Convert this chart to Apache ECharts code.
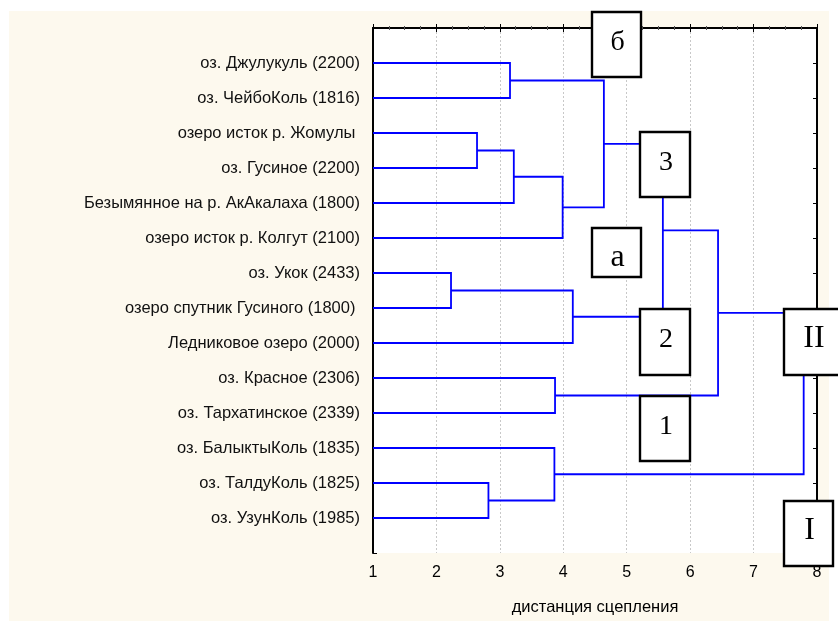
<!DOCTYPE html>
<html>
<head>
<meta charset="utf-8">
<script src="https://cdn.jsdelivr.net/npm/echarts@6/dist/echarts.min.js"></script>
<style>
  html, body { margin: 0; padding: 0; background: #ffffff; }
  #chart { width: 838px; height: 621px; }
</style>
</head>
<body>
<div id="chart"></div>
<script>
// Lakes (leaves of the tree), listed top to bottom
const lakes = [
  'оз. Джулукуль (2200)',
  'оз. ЧейбоКоль (1816)',
  'озеро исток р. Жомулы ',
  'оз. Гусиное (2200)',
  'Безымянное на р. АкАкалаха (1800)',
  'озеро исток р. Колгут (2100)',
  'оз. Укок (2433)',
  'озеро спутник Гусиного (1800) ',
  'Ледниковое озеро (2000)',
  'оз. Красное (2306)',
  'оз. Тархатинское (2339)',
  'оз. БалыктыКоль (1835)',
  'оз. ТалдуКоль (1825)',
  'оз. УзунКоль (1985)'
];

// Merge steps: cluster ids 0..13 are lakes, merge k creates cluster 14 + k
const linkA = [0, 2, 15, 16, 14, 6, 19, 18, 9, 21, 12, 11, 23];
const linkB = [1, 3, 4, 5, 17, 7, 8, 20, 10, 22, 13, 24, 25];
const linkDist = [3.16, 2.64, 3.22, 3.99, 4.64, 2.23, 4.15, 5.57, 3.87, 6.44, 2.82, 3.86, 7.79];

// Axis ticks
const distTicks = [1, 2, 3, 4, 5, 6, 7, 8];

// Group labels drawn in framed boxes
const groupNames = ['б', '3', 'а', '2', 'II', '1', 'I'];

// Box frames in axis units: [x0, y0, x1, y1]
const groupFrames = [
  [4.448, -0.457, 5.221, 1.411],
  [5.205, 2.977, 5.993, 4.840],
  [4.448, 5.720, 5.221, 7.126],
  [5.205, 8.040, 5.993, 9.906],
  [7.475, 8.040, 8.400, 9.906],
  [5.205, 10.526, 5.993, 12.383],
  [7.475, 13.514, 8.257, 15.383]
];

// Font size of each box label
const groupFontSize = [28, 28, 32, 28, 32, 28, 32];

// Build U-shaped links: height and row position of each cluster
const height = {}, row = {};
lakes.forEach((_, i) => { height[i] = distTicks[0]; row[i] = i + 1; });
const links = linkA.map((a, k) => {
  const b = linkB[k], d = linkDist[k], id = lakes.length + k;
  height[id] = d;
  row[id] = (row[a] + row[b]) / 2;
  return [height[a], row[a], d, row[a], d, row[b], height[b], row[b]];
});

const boxes = groupFrames.map((f, i) => [f[0], f[1], f[2], f[3], groupNames[i], groupFontSize[i]]);

const chart = echarts.init(document.getElementById('chart'));

const axisLine = { show: true, lineStyle: { color: '#000', width: 2 } };
const labelFont = 'Liberation Sans, Arial, sans-serif';

chart.setOption({
  animation: false,
  backgroundColor: '#ffffff',
  graphic: [{
    type: 'rect',
    z: -10,
    shape: { x: 9, y: 11, width: 820, height: 610 },
    style: { fill: '#fdf9ee' }
  }, {
    type: 'rect',
    z: -9,
    shape: { x: 373, y: 28, width: 444, height: 525 },
    style: { fill: '#ffffff' }
  }],
  grid: { left: 373, top: 28, width: 444, height: 525, containLabel: false },
  xAxis: [{
    type: 'value',
    position: 'bottom',
    min: distTicks[0],
    max: distTicks[distTicks.length - 1],
    interval: 1,
    axisLine: axisLine,
    axisTick: { show: true, inside: true, length: 4, lineStyle: { color: '#000', width: 1 } },
    minorTick: { show: true, splitNumber: 4, length: 2, lineStyle: { color: '#555', width: 1 } },
    axisLabel: { color: '#000', fontSize: 16, fontFamily: labelFont, margin: 12 },
    splitLine: { show: true, lineStyle: { color: '#c8c8c8', type: [2, 2], width: 1 } },
    name: 'дистанция сцепления',
    nameLocation: 'middle',
    nameGap: 46,
    nameTextStyle: { color: '#000', fontSize: 16.5, fontFamily: labelFont }
  }, {
    type: 'value',
    position: 'top',
    min: distTicks[0],
    max: distTicks[distTicks.length - 1],
    interval: 1,
    axisLine: axisLine,
    axisTick: { show: true, inside: true, length: 4, lineStyle: { color: '#000', width: 1 } },
    minorTick: { show: true, splitNumber: 4, length: 2, lineStyle: { color: '#555', width: 1 } },
    axisLabel: { show: false },
    splitLine: { show: false }
  }],
  yAxis: [{
    type: 'value',
    position: 'left',
    inverse: true,
    min: 0,
    max: lakes.length + 1,
    interval: 1,
    axisLine: axisLine,
    axisTick: { show: true, inside: true, length: 4, lineStyle: { color: '#000', width: 1 } },
    axisLabel: {
      color: '#111',
      fontSize: 16.5,
      fontFamily: labelFont,
      margin: 13,
      formatter: v => lakes[v - 1] || ''
    },
    splitLine: { show: false }
  }, {
    type: 'value',
    position: 'right',
    inverse: true,
    min: 0,
    max: lakes.length + 1,
    interval: 1,
    axisLine: axisLine,
    axisTick: { show: true, inside: true, length: 4, lineStyle: { color: '#000', width: 1 } },
    axisLabel: { show: false },
    splitLine: { show: false }
  }],
  series: [{
    type: 'custom',
    name: 'links',
    xAxisIndex: 0,
    yAxisIndex: 0,
    z: 3,
    silent: true,
    data: links,
    encode: { x: [0, 2, 4, 6], y: [1, 3, 5, 7] },
    renderItem: function (params, api) {
      const pts = [0, 1, 2, 3].map(j => api.coord([api.value(2 * j), api.value(2 * j + 1)]));
      return {
        type: 'polyline',
        shape: { points: pts },
        style: { stroke: '#0000ff', lineWidth: 1.8, fill: null }
      };
    }
  }, {
    type: 'custom',
    name: 'groups',
    xAxisIndex: 0,
    yAxisIndex: 0,
    z: 5,
    silent: true,
    clip: false,
    data: boxes,
    encode: { x: [0, 2], y: [1, 3] },
    renderItem: function (params, api) {
      const p0 = api.coord([api.value(0), api.value(1)]);
      const p1 = api.coord([api.value(2), api.value(3)]);
      const x = Math.round(p0[0]), y = Math.round(p0[1]);
      const w = Math.round(p1[0]) - x, h = Math.round(p1[1]) - y;
      const fs = api.value(5);
      return {
        type: 'group',
        children: [{
          type: 'rect',
          shape: { x: x, y: y, width: w, height: h },
          style: { fill: '#ffffff', stroke: '#000', lineWidth: 2.4 }
        }, {
          // labels share a common baseline below the frame's top edge
          type: 'text',
          x: x + w / 2 + 1,
          y: y + 39 - fs * 0.3,
          style: {
            text: api.value(4),
            fill: '#000',
            font: fs + 'px "Liberation Serif", "Times New Roman", serif',
            align: 'center',
            verticalAlign: 'middle'
          }
        }]
      };
    }
  }]
});
</script>
</body>
</html>
